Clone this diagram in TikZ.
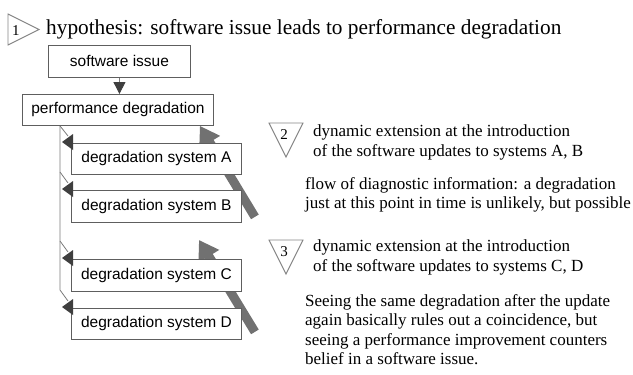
\documentclass[tikz,border=0pt]{standalone}
\usepackage{fontspec}
\setmainfont{Liberation Serif}
\newfontfamily\sansf{Liberation Sans}
\usetikzlibrary{arrows.meta,calc}
\pgfdeclarelayer{background}
\pgfsetlayers{background,main}
\definecolor{boxgray}{HTML}{5E5E5E}
\definecolor{linegray}{HTML}{7A7A7A}
\definecolor{headdark}{HTML}{3F3F3F}
\definecolor{biggray}{HTML}{717171}
\definecolor{trigray}{HTML}{858585}
\begin{document}
\begin{tikzpicture}[x=1pt,y=-1pt,
  box/.style={draw=boxgray, line width=0.9pt, fill=white, inner sep=0pt, anchor=north west,
    font=\sansf\fontsize{15.5}{18}\selectfont},
  thinline/.style={draw=linegray, line width=0.8pt},
  headfill/.style={fill=headdark},
  bigarrow/.style={draw=biggray, line width=9pt, -{Triangle[length=19pt,width=23pt,color=biggray]}},
  tri/.style={draw=trigray, line width=0.9pt},
  num/.style={anchor=base, inner sep=0pt, font=\fontsize{15}{17}\selectfont},
  para/.style={anchor=north west, inner sep=0pt, align=left, font=\fontsize{17}{19.5}\selectfont},
  titletext/.style={anchor=base west, inner sep=0pt, font=\fontsize{21.3}{24}\selectfont}]
\useasboundingbox (0,0) rectangle (633,375);

% title
\draw[tri] (8,14) -- (8,45) -- (39,29.5) -- cycle;
\node[num] (n1) at (16,35) {1};
\node[titletext] (title) at (46,34) {hypothesis: software issue leads to performance degradation};

% boxes
\node[box, minimum width=142pt, minimum height=32pt] (sw) at (48,45) {software issue};
\node[box, minimum width=191pt, minimum height=31pt] (pd) at (22,94) {performance degradation};
\node[box, minimum width=170pt, minimum height=31pt] (A) at (71,143) {degradation system A};
\node[box, minimum width=170pt, minimum height=32pt] (B) at (71,190) {degradation system B};
\node[box, minimum width=170pt, minimum height=32pt] (C) at (71,259) {degradation system C};
\node[box, minimum width=170pt, minimum height=31pt] (D) at (71,308) {degradation system D};

% software issue -> performance degradation
\draw[thinline, -{Triangle[length=12pt,width=12pt,color=headdark]}] (sw.south) -- (sw.south |- pd.north);

% trunk and branches
\coordinate (t0) at ($(pd.south west)+(38,0)$);
\coordinate (tB) at ($(B.north west)+(-11,-18)$);
\coordinate (tC) at ($(C.north west)+(-11,-18)$);
\coordinate (tD) at ($(D.north west)+(-11,-18)$);
\draw[thinline] (t0) -- (tD) -- ($(D.north west)+(-3,-7)$);
\draw[thinline] (t0) -- ($(A.north west)+(-3,-7)$);
\draw[thinline] (tB) -- ($(B.north west)+(-3,-7)$);
\draw[thinline] (tC) -- ($(C.north west)+(-3,-7)$);
\foreach \b in {A,B,C,D}{
  \fill[headfill] ($(\b.north west)+(-9,-1)$) -- ++(11,-8) -- ++(0,16) -- cycle;
}

% big gray arrows (behind boxes)
\coordinate (g1h) at ($(pd.south east)+(-14,0)$);
\coordinate (g1t) at ($(B.south east)+(13,-6)$);
\coordinate (g2h) at (199,240);
\coordinate (g2t) at ($(D.south east)+(13,-8)$);
\begin{pgfonlayer}{background}
\draw[bigarrow] (g1t) -- (g1h);
\draw[bigarrow] (g2t) -- (g2h);
\end{pgfonlayer}

% right side
\draw[tri] (269,123) -- (303,123) -- (286,157) -- cycle;
\node[num] (n2) at (284,139) {2};
\node[para] (p2) at (313,125) {dynamic extension at the introduction\\of the software updates to systems A, B};
\node[para] (f2) at (305,177) {flow of diagnostic information: a degradation\\just at this point in time is unlikely, but possible};

\draw[tri] (269,240) -- (303,240) -- (286,274) -- cycle;
\node[num] (n3) at (284,256) {3};
\node[para] (p3) at (313,240) {dynamic extension at the introduction\\of the software updates to systems C, D};
\node[para] (f3) at (305,294) {Seeing the same degradation after the update\\again basically rules out a coincidence, but\\seeing a performance improvement counters\\belief in a software issue.};
\end{tikzpicture}
\end{document}
